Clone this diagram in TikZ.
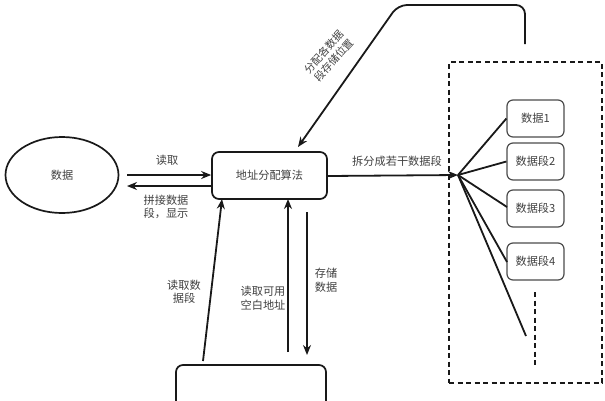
\documentclass[tikz,border=0pt]{standalone}
\usepackage{fontspec}
\setmainfont{Noto Sans CJK SC}
\usetikzlibrary{arrows.meta,shapes.geometric}
\begin{document}
\begin{tikzpicture}[x=1pt,y=-1pt,
  every node/.style={font=\fontsize{11.2}{13.5}\selectfont, text=black!75},
  conn/.style={line width=1.8pt, draw=black!90},
  arr/.style={conn,-{Stealth[length=10pt,width=8pt]}},
  rbox/.style={draw=black!90, line width=1.7pt, rounded corners=7pt},
  segbox/.style={draw=black!70, line width=1.2pt, rounded corners=6pt, minimum width=57pt, minimum height=37pt, inner sep=0pt},
  lbl/.style={align=center, inner sep=1pt},
  dashline/.style={draw=black!90, line width=1.8pt, dash pattern=on 5pt off 3.5pt}]
\useasboundingbox (0,0) rectangle (605,400);
% ellipse
\node[draw=black!90, line width=1.7pt, ellipse, minimum width=113pt, minimum height=76pt, inner sep=0pt] (data) at (62,175) {数据};
% algorithm box
\node[rbox, minimum width=115pt, minimum height=47pt, inner sep=0pt] (alg) at (269.5,175.5) {地址分配算法};
% bottom box (cut off)
\draw[rbox] (176,404) -- (176,365) -- (326,365) -- (326,404);
\coordinate (bot1) at (203,361);
\coordinate (bot2) at (288,352);
\coordinate (bot3) at (307,355);
% dashed container
\node[dashline, minimum width=153pt, minimum height=321pt, inner sep=0pt] (cont) at (525.5,222.5) {};
% segment boxes
\node[segbox] (s1) at (535.5,118.5) {数据1};
\node[segbox] (s2) at (535.5,161.5) {数据段2};
\node[segbox] (s3) at (535.5,208.5) {数据段3};
\node[segbox] (s4) at (535.5,261.5) {数据段4};
\coordinate (fan) at (458,175);
\coordinate (s5) at (526,336);
\coordinate (d1) at (535,292);
\coordinate (d2) at (535,365);
\coordinate (topend) at (525,44);
% arrows between data and alg
\draw[arr] (127,175) -- (alg.west |- 0,175) coordinate (ra);
\draw[arr] (alg.west |- 0,186) -- (127,186);
\node[lbl] (l1) at (167,160) {读取};
\node[lbl] (l2) at (166,207) {拼接数据\\段，显示};
% split arrow
\draw[arr] (alg.east |- 0,176) -- (fan);
\node[lbl] (l3) at (397,161) {拆分成若干数据段};
% fan lines
\draw[conn] (fan) -- (s1.west);
\draw[conn] (fan) -- (s2.west);
\draw[conn] (fan) -- (507,207);
\draw[conn] (fan) -- (507,262);
\draw[conn] (fan) -- (s5);
\draw[dashline] (d1) -- (d2);
% bottom arrows
\draw[arr] (bot1) -- (222,199);
\node[lbl] (l4) at (184,292) {读取数\\据段};
\draw[arr] (bot2) -- (288,199);
\node[lbl] (l5) at (263,298) {读取可用\\空白地址};
\draw[arr] (307,212) -- (bot3);
\node[lbl] (l6) at (326,280) {存储\\数据};
% top feedback
\draw[arr, rounded corners=9pt] (topend) -- (525,5) -- (398,5) -- (298,147);
\node[lbl, rotate=48, font=\fontsize{10.5}{12.5}\selectfont] (l7) at (329,56) {分配各数据\\段存储位置};
\end{tikzpicture}
\end{document}
